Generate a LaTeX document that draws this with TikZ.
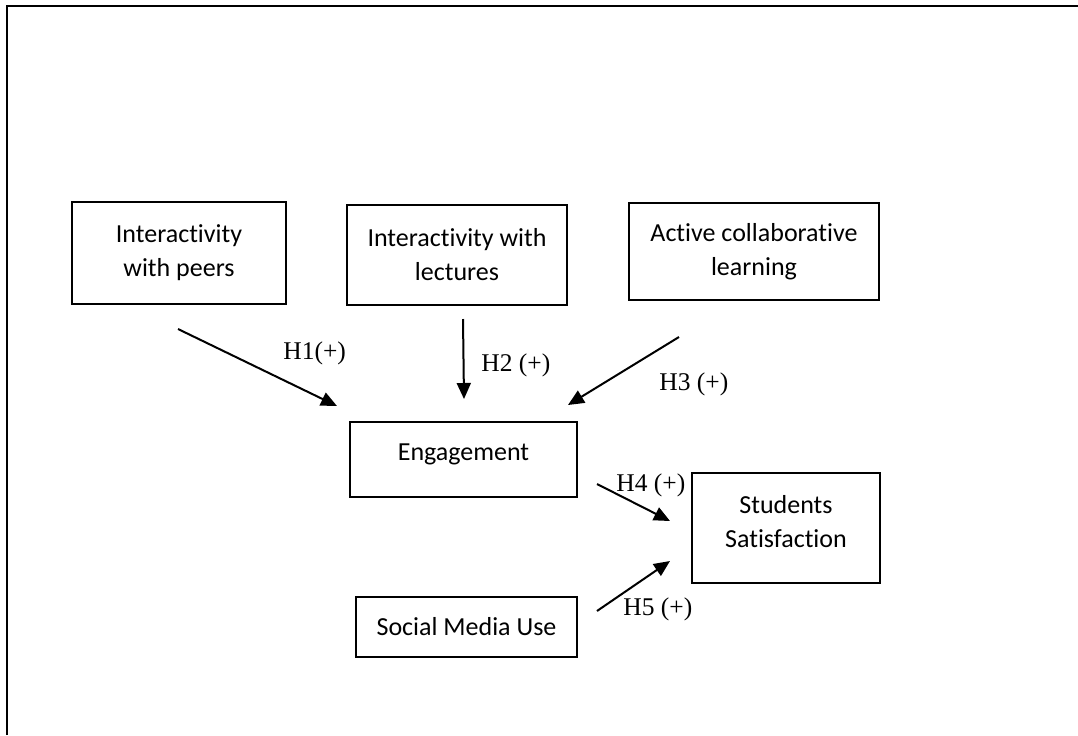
\documentclass[tikz,border=0pt]{standalone}
\usepackage{fontspec}
\setmainfont{Liberation Serif}
\newfontfamily\boxfont[Ligatures={NoCommon,NoRare}, Contextuals=NoAlternate]{Carlito}
\usetikzlibrary{arrows.meta, positioning}

\begin{document}
\begin{tikzpicture}[x=0.5pt, y=-0.5pt,
		construct/.style={draw, line width=1pt, align=center, inner sep=0pt,
			font=\boxfont\fontsize{13}{17}\selectfont},
		hyp/.style={line width=1pt, -{Triangle[length=8pt, width=7pt]}},
		hlabel/.style={anchor=base west, inner sep=0pt, font=\fontsize{12.75}{15}\selectfont}]
			
			\useasboundingbox (0,0) rectangle (1078,735);
			
			% Marco
			\draw[line width=1pt] (6.5,735) -- (6.5,6) -- (1078,6);
			
			% Constructos
			\node[construct, minimum width=107pt, minimum height=51pt] (peers) at (179,253) {Interactivity\\with peers};
			\node[construct, minimum width=110pt, minimum height=50pt] (lect) at (457,255) {Interactivity with\\lectures};
			\node[construct, minimum width=125pt, minimum height=48.5pt] (active) at (754,251.5) {Active collaborative\\learning};
			\node[construct, minimum width=113.5pt, text height=19pt, text depth=18.5pt] (eng) at (463.5,459.5) {Engagement};
			\node[construct, minimum width=94pt, minimum height=55pt] (sat) at (786,528) {};
			\node[construct, draw=none] (sattxt) at (786,522) {Students\\Satisfaction};
			\node[construct, minimum width=110.5pt, minimum height=30pt] (smu) at (466.5,627) {Social Media Use};
			
			% Puntos de las flechas
			\coordinate (h1a) at (178,329);
			\coordinate (h1b) at (337,406);
			\coordinate (h2a) at (463,319);
			\coordinate (h2b) at (464,399);
			\coordinate (h3a) at (679,337);
			\coordinate (h3b) at (568,405);
			\coordinate (h4a) at (597,484);
			\coordinate (h4b) at (670,521);
			\coordinate (h5a) at (597,611);
			\coordinate (h5b) at (670,561);
			
			% Flechas
			\draw[hyp] (h1a) -- (h1b);
			\draw[hyp] (h2a) -- (h2b);
			\draw[hyp] (h3a) -- (h3b);
			\draw[hyp] (h4a) -- (h4b);
			\draw[hyp] (h5a) -- (h5b);
			
			% Hipotesis
			\node[hlabel] (lh1) at (283,359) {H1(+)};
			\node[hlabel] (lh2) at (481,371) {H2 (+)};
			\node[hlabel] (lh3) at (659,390) {H3 (+)};
			\node[hlabel] (lh4) at (616,491) {H4 (+)};
			\node[hlabel] (lh5) at (623,615) {H5 (+)};
			
		\end{tikzpicture}
\end{document}
